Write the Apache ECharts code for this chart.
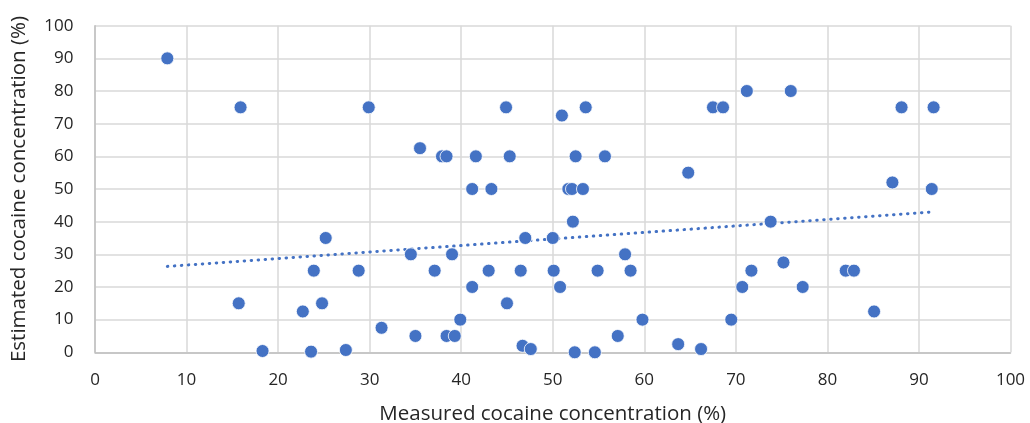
<!DOCTYPE html>
<html><head><meta charset="utf-8">
<script src="https://cdn.jsdelivr.net/npm/echarts@6/dist/echarts.min.js"></script>
<style>html,body{margin:0;padding:0;background:#fff}#c{width:1030px;height:423px}</style>
</head><body><div id="c"></div>
<script>
const measured = [7.9,15.9,29.9,35.5,37.9,38.4,41.6,45.3,44.9,51.0,53.6,52.5,55.7,67.5,68.6,64.8,41.2,43.3,51.7,52.1,53.3,71.2,76.0,88.1,91.6,87.1,91.4,25.2,23.9,28.8,15.7,22.7,24.8,31.3,18.3,23.6,27.4,34.5,37.1,39.0,43.0,41.2,45.0,39.9,35.0,38.4,39.3,47.0,50.0,52.2,46.5,50.1,54.9,50.8,57.9,58.5,59.8,57.1,46.7,47.6,52.4,54.6,63.7,66.2,69.5,70.7,71.7,73.8,75.2,77.3,82.0,82.9,85.1];
const estimated = [90,75,75,62.5,60,60,60,60,75,72.5,75,60,60,75,75,55,50,50,50,50,50,80,80,75,75,52,50,35,25,25,15,12.5,15,7.5,0.4,0.2,0.7,30,25,30,25,20,15,10,5,5,5,35,35,40,25,25,25,20,30,25,10,5,2,1,0,0,2.5,1,10,20,25,40,27.5,20,25,25,12.5];
const trendX = [7.9, 91.6];
const trendY = [26.3, 43.0];
const xTicks = [0,10,20,30,40,50,60,70,80,90,100];
const yTicks = [0,10,20,30,40,50,60,70,80,90,100];

const pts = measured.map((x,i)=>[x, estimated[i]]);
const trend = trendX.map((x,i)=>[x, trendY[i]]);
const font = 'Open Sans';
const txt = '#262626';
const chart = echarts.init(document.getElementById('c'), null, {renderer:'canvas'});
chart.setOption({
  animation:false,
  grid:{left:95, right:19.5, top:25.7, bottom:70.7, containLabel:false, outerBoundsMode:'none'},
  xAxis:{type:'value', min:xTicks[0], max:xTicks[xTicks.length-1], interval:10,
    name:'Measured cocaine concentration (%)', nameLocation:'middle', nameGap:51,
    nameTextStyle:{fontFamily:font, fontSize:20.5, color:txt},
    axisLine:{show:true, lineStyle:{color:'#bfbfbf', width:1.5}},
    axisTick:{show:false},
    axisLabel:{fontFamily:font, fontSize:17, color:txt, margin:19},
    splitLine:{show:true, lineStyle:{color:'#d9d9d9', width:1.5}}},
  yAxis:{type:'value', min:yTicks[0], max:yTicks[yTicks.length-1], interval:10,
    name:'Estimated cocaine concentration (%)', nameLocation:'middle', nameGap:65,
    nameTextStyle:{fontFamily:font, fontSize:20.5, color:txt},
    axisLine:{show:true, lineStyle:{color:'#bfbfbf', width:1.5}},
    axisTick:{show:false},
    axisLabel:{fontFamily:font, fontSize:17, color:txt, margin:21.5},
    splitLine:{show:true, lineStyle:{color:'#d9d9d9', width:1.5}}},
  series:[
    {type:'line', data:trend, symbol:'none', silent:true, z:3,
     lineStyle:{color:'#4472C4', width:3, type:[0.5,6.5], cap:'round'}},
    {type:'scatter', data:pts, symbol:'circle', symbolSize:13, z:4,
     itemStyle:{color:'#4472C4', opacity:1, borderColor:'#ffffff', borderWidth:0.8}}
  ]
});
</script></body></html>
